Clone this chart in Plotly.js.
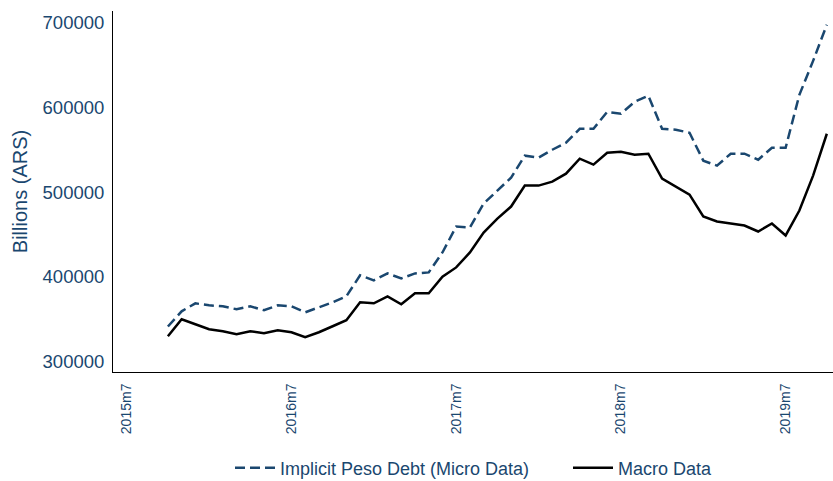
<!DOCTYPE html>
<html>
<head>
<meta charset="utf-8">
<script src="https://cdn.plot.ly/plotly-3.0.1.min.js"></script>
<style>html,body{margin:0;padding:0;background:#fff;}#chart{width:833px;height:481px;}</style>
</head>
<body>
<div id="chart"></div>
<script>
// Monthly periods (Stata %tm style labels)
const months = [
  "2015m10","2015m11","2015m12",
  "2016m1","2016m2","2016m3","2016m4","2016m5","2016m6","2016m7","2016m8","2016m9","2016m10","2016m11","2016m12",
  "2017m1","2017m2","2017m3","2017m4","2017m5","2017m6","2017m7","2017m8","2017m9","2017m10","2017m11","2017m12",
  "2018m1","2018m2","2018m3","2018m4","2018m5","2018m6","2018m7","2018m8","2018m9","2018m10","2018m11","2018m12",
  "2019m1","2019m2","2019m3","2019m4","2019m5","2019m6","2019m7","2019m8","2019m9","2019m10"
];
// Implicit Peso Debt (Micro Data), billions ARS
const microData = [
  341000,359000,368400,366100,364900,361400,364900,360200,366100,364900,357800,363700,369600,
  376700,401500,395600,403800,397900,403800,405000,428600,459300,458100,486400,501800,517100,
  543100,540700,550100,558400,574900,574900,594900,592600,606800,613900,574900,573700,570200,
  537200,531300,545400,545400,538300,552500,552500,615000,655200,698000
];
// Macro Data, billions ARS
const macroData = [
  329500,349600,343700,337800,335400,332000,335400,333000,336600,334200,328300,334200,341300,
  348400,369600,368400,376700,367300,380300,380300,400000,410900,428600,452200,468700,482900,
  507700,507700,512400,521800,539500,532500,546600,547800,544200,545400,516000,506000,497000,
  471100,465200,462800,460500,453400,462800,448700,478200,519500,569000
];
const tickLabels = ["2015m7","2016m7","2017m7","2018m7","2019m7"];
const yTicks = [300000,400000,500000,600000,700000];

function tm(s){ const p = s.split("m"); return (parseInt(p[0])-1960)*12 + (parseInt(p[1])-1); }
const xs = months.map(tm);
const navy = "#1a476f";

const traces = [
  {x: xs, y: microData, type: "scatter", mode: "lines", name: "Implicit Peso Debt (Micro Data)",
   legend: "legend", line: {color: navy, width: 2.5, dash: "10px,5px"}},
  {x: xs, y: macroData, type: "scatter", mode: "lines", name: "Macro Data",
   legend: "legend2", line: {color: "#000000", width: 2.5}}
];

const legendBase = {orientation: "h", xref: "container", xanchor: "left",
  y: 0.027, yref: "container", yanchor: "middle",
  font: {size: 18, color: navy}, itemwidth: 40, bgcolor: "rgba(0,0,0,0)"};

const layout = {
  width: 833, height: 481,
  margin: {l: 113, r: 0, t: 11, b: 109, autoexpand: false},
  paper_bgcolor: "#ffffff", plot_bgcolor: "#ffffff",
  font: {family: "Liberation Sans, Arial, sans-serif", color: navy},
  showlegend: true,
  legend: Object.assign({}, legendBase, {x: 230/833}),
  legend2: Object.assign({}, legendBase, {x: 568/833}),
  xaxis: {
    range: [665.0, 717.45], automargin: false,
    tickmode: "array", tickvals: tickLabels.map(tm), ticktext: tickLabels,
    tickangle: -90, tickfont: {size: 14, color: navy},
    showgrid: false, zeroline: false, showline: true, linecolor: "#000", linewidth: 1,
    ticks: "", ticklabelstandoff: 5
  },
  yaxis: {
    range: [287200, 714200], automargin: false,
    tickmode: "array", tickvals: yTicks, ticktext: yTicks.map(String),
    tickfont: {size: 18.5, color: navy},
    title: {text: "Billions (ARS)", font: {size: 20, color: navy}, standoff: 9},
    showgrid: false, zeroline: false, showline: true, linecolor: "#000", linewidth: 1,
    ticks: "", ticklabelstandoff: 4
  }
};

Plotly.newPlot("chart", traces, layout, {displayModeBar: false, staticPlot: true});
</script>
</body>
</html>
